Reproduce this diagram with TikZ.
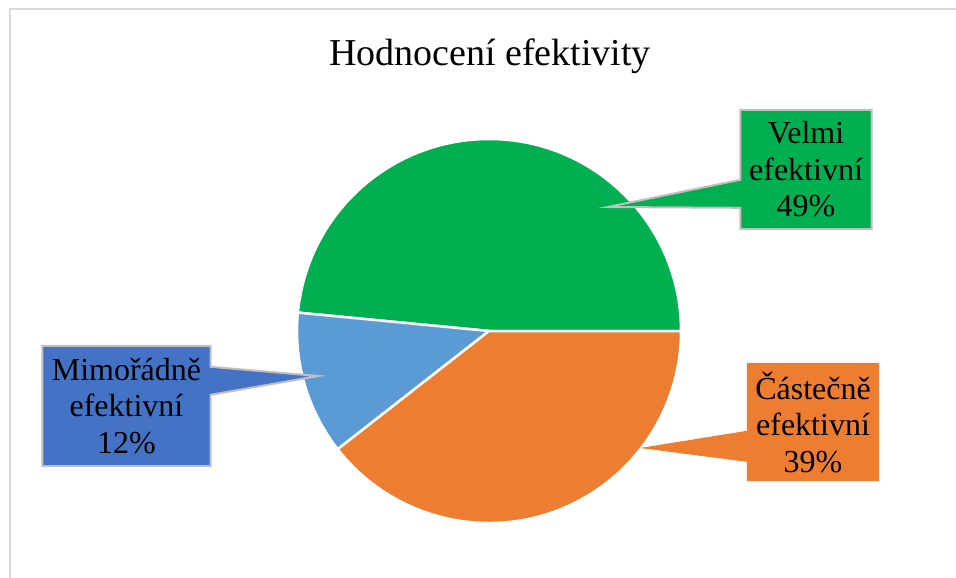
\documentclass[tikz,border=0pt]{standalone}
\usepackage{fontspec}
\setmainfont{Liberation Serif}
\usetikzlibrary{calc}

\definecolor{chartgreen}{HTML}{00B050}
\definecolor{chartorange}{HTML}{ED7D31}
\definecolor{chartlightblue}{HTML}{5B9BD5}
\definecolor{chartblue}{HTML}{4472C4}
\definecolor{frameline}{HTML}{D9D9D9}
\definecolor{calloutline}{HTML}{BFBFBF}

\tikzset{
  slice/.style={draw=white, line width=2.5pt, line join=round},
  labeltext/.style={align=center, font=\fontsize{32}{36.5}\selectfont,
    minimum width=#1, inner sep=0pt},
  calloutshape/.style={line width=2pt, line join=miter},
}

\begin{document}
\begin{tikzpicture}[x=1pt, y=-1pt]
  \useasboundingbox (0,0) rectangle (956,578);
  \fill[white] (0,0) rectangle (956,578);

  % chart frame, running past the right and bottom edges
  \draw[frameline, line width=2pt] (9.5,590) -- (9.5,9.5) -- (970,9.5);

  % title
  \node[font=\fontsize{38}{44}\selectfont, anchor=base] (title) at (490,66) {Hodnocení efektivity};

  % pie (y axis points down, so angles run negative for counter-clockwise)
  \coordinate (c) at (489,331);
  \def\rad{192}
  \filldraw[slice, fill=chartgreen]  (c) -- ++(0:\rad) arc[start angle=0, end angle=-174.5, radius=\rad] -- cycle;
  \filldraw[slice, fill=chartlightblue] (c) -- ++(-174.5:\rad) arc[start angle=-174.5, end angle=-218, radius=\rad] -- cycle;
  \filldraw[slice, fill=chartorange] (c) -- ++(-218:\rad) arc[start angle=-218, end angle=-360, radius=\rad] -- cycle;

  % callout tips inside the slices
  \coordinate (tipG) at (608,207);
  \coordinate (tipB) at (318,376);
  \coordinate (tipO) at (640,448);

  % data label boxes
  \node[minimum width=131pt, minimum height=119pt, inner sep=0pt] (boxG) at (806,169.5) {};
  \node[minimum width=168pt, minimum height=120pt, inner sep=0pt] (boxB) at (126.5,406) {};
  \node[minimum width=132pt, minimum height=118pt, inner sep=0pt] (boxO) at (813,422) {};

  % callout shapes: box outline with a wedge pointing into the slice
  \filldraw[calloutshape, fill=chartgreen, draw=calloutline]
    (boxG.north west) -- (boxG.north east) -- (boxG.south east) -- (boxG.south west)
    -- ($(boxG.north west)+(0,98)$) -- (tipG) -- ($(boxG.north west)+(0,70)$) -- cycle;
  \filldraw[calloutshape, fill=chartblue, draw=calloutline]
    (boxB.north west) -- (boxB.north east) -- ($(boxB.north east)+(0,21)$) -- (tipB)
    -- ($(boxB.north east)+(0,49)$) -- (boxB.south east) -- (boxB.south west) -- cycle;
  \fill[chartorange]
    (boxO.north west) -- (boxO.north east) -- (boxO.south east) -- (boxO.south west)
    -- ($(boxO.north west)+(0,99)$) -- (tipO) -- ($(boxO.north west)+(0,68)$) -- cycle;

  % label texts
  \node[labeltext=131pt] (labG) at (boxG.center) {Velmi\\efektivní\\49\%};
  \node[labeltext=168pt] (labB) at (boxB.center) {Mimořádně\\efektivní\\12\%};
  \node[labeltext=132pt] (labO) at (boxO.center) {Částečně\\efektivní\\39\%};
\end{tikzpicture}
\end{document}
